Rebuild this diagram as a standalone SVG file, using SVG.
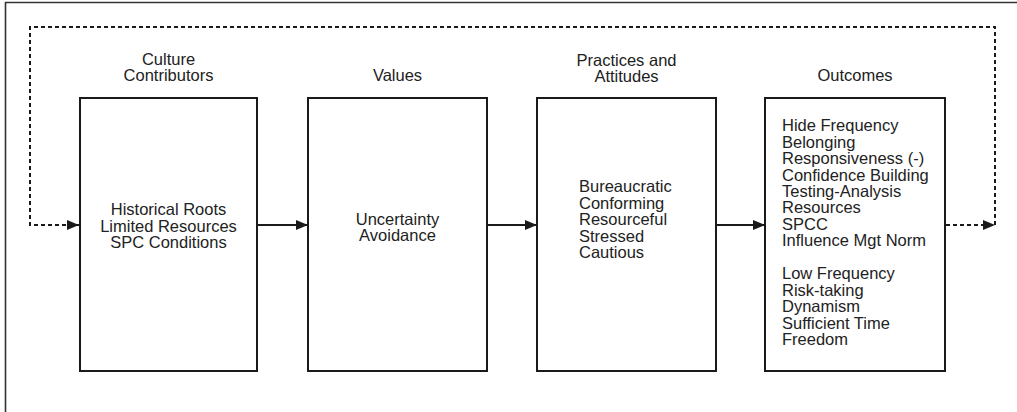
<svg xmlns="http://www.w3.org/2000/svg" width="1017" height="412" viewBox="0 0 1017 412">
<defs>
<marker id="arr" markerWidth="12" markerHeight="10" refX="12" refY="5" orient="auto" markerUnits="userSpaceOnUse">
<path d="M0,0 L12,5 L0,10 Z" fill="#1a1a1a"/>
</marker>
<style>
.box{fill:#fff;stroke:#1a1a1a;stroke-width:2}
.t{font-family:"Liberation Sans",Arial,sans-serif;font-size:16.5px;fill:#222}
.c{text-anchor:middle}
.solid{fill:none;stroke:#1a1a1a;stroke-width:1.8}
.dash{fill:none;stroke:#1a1a1a;stroke-width:2;stroke-dasharray:4 3}
</style>
</defs>
<rect width="1017" height="412" fill="#fff"/>
<path d="M5.5,412 V2.5 H1017" fill="none" stroke="#333" stroke-width="1.6"/>

<g id="headers">
<text class="t c" x="168.5" y="65">Culture</text>
<text class="t c" x="168.5" y="81">Contributors</text>
<text class="t c" x="397.5" y="81">Values</text>
<text class="t c" x="626.5" y="65.5">Practices and</text>
<text class="t c" x="626.5" y="82">Attitudes</text>
<text class="t c" x="855" y="81">Outcomes</text>
</g>

<g id="node-contributors">
<rect class="box" x="80" y="98" width="177" height="273"/>
<text class="t c" x="168.5" y="215">Historical Roots</text>
<text class="t c" x="168.5" y="231.5">Limited Resources</text>
<text class="t c" x="168.5" y="248">SPC Conditions</text>
</g>

<g id="node-values">
<rect class="box" x="308" y="98" width="179" height="273"/>
<text class="t c" x="397.5" y="225">Uncertainty</text>
<text class="t c" x="397.5" y="241">Avoidance</text>
</g>

<g id="node-practices">
<rect class="box" x="537" y="98" width="179" height="273"/>
<text class="t" x="579" y="192">Bureaucratic</text>
<text class="t" x="579" y="208.5">Conforming</text>
<text class="t" x="579" y="225">Resourceful</text>
<text class="t" x="579" y="241.5">Stressed</text>
<text class="t" x="579" y="258">Cautious</text>
</g>

<g id="node-outcomes">
<rect class="box" x="765" y="98" width="180" height="273"/>
<text class="t" x="782" y="131">Hide Frequency</text>
<text class="t" x="782" y="147.5">Belonging</text>
<text class="t" x="782" y="164">Responsiveness (-)</text>
<text class="t" x="782" y="180.5">Confidence Building</text>
<text class="t" x="782" y="197">Testing-Analysis</text>
<text class="t" x="782" y="213">Resources</text>
<text class="t" x="782" y="229.5">SPCC</text>
<text class="t" x="782" y="246">Influence Mgt Norm</text>
<text class="t" x="782" y="279">Low Frequency</text>
<text class="t" x="782" y="295.5">Risk-taking</text>
<text class="t" x="782" y="312">Dynamism</text>
<text class="t" x="782" y="328.5">Sufficient Time</text>
<text class="t" x="782" y="345">Freedom</text>
</g>

<g id="connectors">
<line class="solid" x1="258" y1="225" x2="308" y2="225" marker-end="url(#arr)"/>
<line class="solid" x1="488" y1="225" x2="537" y2="225" marker-end="url(#arr)"/>
<line class="solid" x1="717" y1="225" x2="765" y2="225" marker-end="url(#arr)"/>
<line class="dash" x1="946" y1="225" x2="995" y2="225" marker-end="url(#arr)"/>
<path class="dash" d="M995,225 V27 H30 V225 H79" marker-end="url(#arr)"/>
</g>
</svg>
